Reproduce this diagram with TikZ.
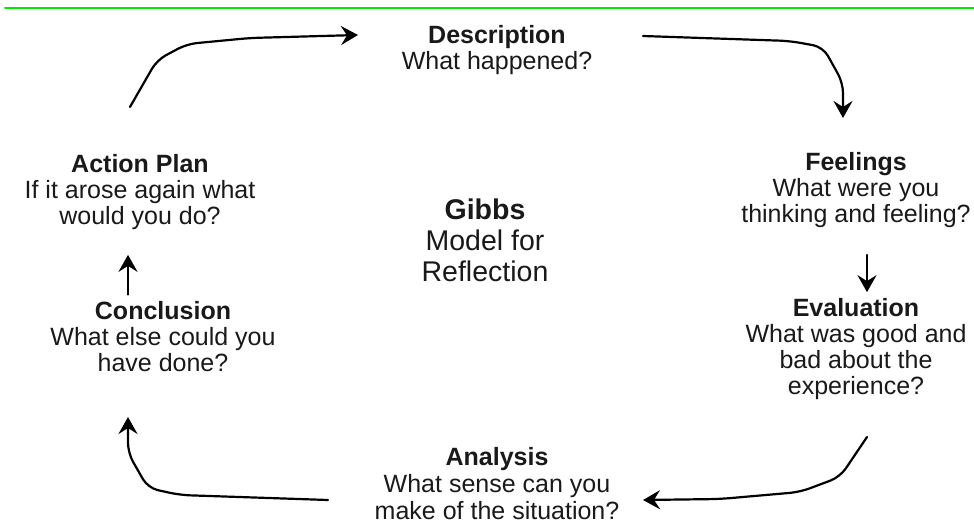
\documentclass[tikz,border=0pt]{standalone}
\usepackage{fontspec}
\setmainfont{Liberation Sans}
\usetikzlibrary{arrows.meta,calc}
\definecolor{topline}{RGB}{0,235,0}
\begin{document}
\begin{tikzpicture}[x=1pt, y=-1pt, line join=round, line cap=round, >={Stealth[length=17pt,width=19pt,inset=6pt]},
    step text/.style={align=center, inner sep=3pt, text=black!90, font=\fontsize{25}{26}\selectfont},
    loop arrow/.style={->, line width=2.2pt, rounded corners=10pt}]
    \useasboundingbox (0,0) rectangle (974,524);
    \draw[topline, line width=2pt] (5,8.5)--(974,8.5);
    % stages of the cycle
    \node[step text] (desc) at (497,50) {\textbf{Description}\\What happened?};
    \node[step text] (feel) at (856,190) {\textbf{Feelings}\\What were you\\thinking and feeling?};
    \node[step text] (eval) at (856,349) {\textbf{Evaluation}\\What was good and\\bad about the\\experience?};
    \node[step text, font=\fontsize{25}{27}\selectfont] (anal) at (497,484) {\textbf{Analysis}\\What sense can you\\make of the situation?};
    \node[step text] (conc) at (163,337) {\textbf{Conclusion}\\What else could you\\have done?};
    \node[step text] (act) at (140,192) {\textbf{Action Plan}\\If it arose again what\\would you do?};
    \node[step text, font=\fontsize{28.5}{31}\selectfont] (gibbs) at (485,240) {\textbf{Gibbs}\\Model for\\Reflection};
    % free ends of the big arrows
    \coordinate (actOut) at (130,107); \coordinate (descIn) at (358,35);
    \coordinate (descOut) at (643,36); \coordinate (feelIn) at (843,118);
    \coordinate (evalOut) at (867,437); \coordinate (analIn) at (643,500);
    \coordinate (analOut) at (328,500); \coordinate (concIn) at (128,417);
    \draw[loop arrow] (actOut)--(157,60)--(187,44)--(250,38)--(descIn);
    \draw[loop arrow] (descOut)--(790,41)--(823,47)--(843,83)--(feelIn);
    \draw[loop arrow] (evalOut)--(840,477)--(800,492)--(720,499)--(analIn);
    \draw[loop arrow] (analOut)--(180,495)--(148,488)--(128,453)--(concIn);
    \draw[->, line width=2.2pt, shorten <=24pt, shorten >=3pt] ([xshift=11pt]feel.south)--([xshift=11pt]feel.south |- eval.north);
    \draw[->, line width=2.2pt, shorten <=4pt, shorten >=22pt] ([xshift=-35pt]conc.north)--([xshift=-35pt]conc.north |- act.south);
\end{tikzpicture}
\end{document}
